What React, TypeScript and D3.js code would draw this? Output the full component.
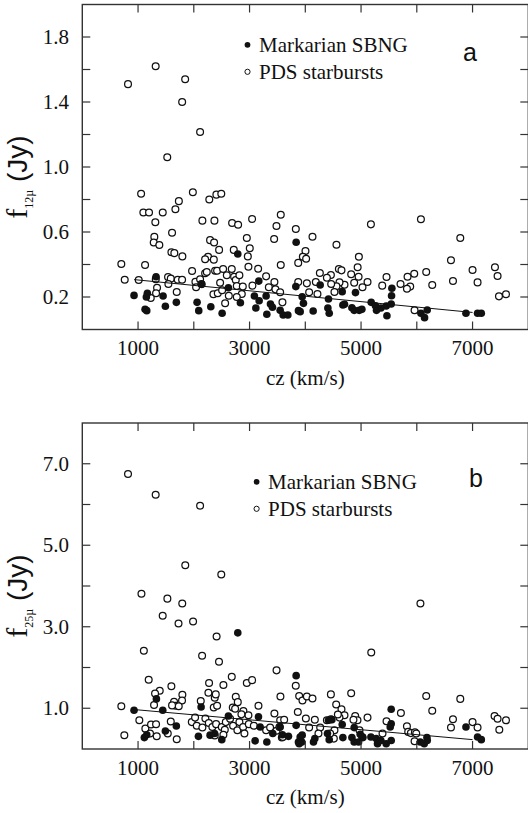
import * as d3 from "d3";

// cz (km/s) vs flux (Jy)
const mark12: [number, number][] = [
  [928, 0.21], [1167, 0.223], [1149, 0.2], [1449, 0.206], [1126, 0.124], [1156, 0.116],
  [1490, 0.143], [1687, 0.167], [2059, 0.167], [2089, 0.116], [2305, 0.14], [2508, 0.1],
  [2836, 0.165], [2143, 0.278], [2621, 0.257], [3166, 0.298], [3087, 0.206], [3172, 0.177],
  [3113, 0.132], [3310, 0.094], [3297, 0.206], [3375, 0.157], [3411, 0.137], [3549, 0.118],
  [3603, 0.089], [3687, 0.089], [3830, 0.264], [3877, 0.116], [2789, 0.465], [3836, 0.537],
  [1323, 0.325], [4267, 0.274], [3944, 0.202], [3967, 0.161], [3908, 0.11], [4141, 0.114],
  [4416, 0.188], [4405, 0.132], [4429, 0.1], [4662, 0.233], [4674, 0.151], [4703, 0.155],
  [4900, 0.227], [4836, 0.134], [4877, 0.118], [4967, 0.118], [5015, 0.124], [5182, 0.167],
  [5259, 0.146], [5277, 0.118], [5464, 0.085], [5356, 0.132], [5451, 0.145], [5541, 0.157],
  [5553, 0.254], [5547, 0.208], [6074, 0.1], [6187, 0.12], [6139, 0.073], [6882, 0.1],
  [7090, 0.1], [7157, 0.1],
];

const pds12: [number, number][] = [
  [820, 1.51], [1316, 1.62], [1845, 1.54], [1791, 1.4], [2113, 1.215], [1524, 1.06],
  [1055, 0.835], [1983, 0.845], [2278, 0.8], [2405, 0.83], [2493, 0.835], [1732, 0.79],
  [1670, 0.74], [1095, 0.72], [1197, 0.72], [1443, 0.72], [1310, 0.66], [2154, 0.67],
  [2370, 0.67], [2687, 0.655], [2795, 0.645], [3046, 0.68], [1610, 0.595], [1292, 0.57],
  [1281, 0.535], [1382, 0.52], [2292, 0.55], [2364, 0.535], [2454, 0.49], [1598, 0.475],
  [1651, 0.47], [1795, 0.45], [2951, 0.563], [3004, 0.5], [2969, 0.45], [2717, 0.49],
  [3441, 0.557], [3483, 0.637], [3560, 0.706], [3830, 0.618], [3560, 0.397], [3873, 0.41],
  [700, 0.403], [1126, 0.397], [761, 0.306], [1012, 0.305], [1318, 0.31], [1538, 0.323],
  [1587, 0.313], [1712, 0.306], [1790, 0.306], [1544, 0.28], [1341, 0.257], [1323, 0.223],
  [1228, 0.194], [1694, 0.231], [1969, 0.36], [2029, 0.294], [2041, 0.26], [2113, 0.309],
  [2137, 0.28], [2203, 0.346], [2233, 0.354], [2256, 0.448], [2203, 0.432], [2359, 0.43],
  [2382, 0.362], [2418, 0.362], [2526, 0.372], [2681, 0.372], [2592, 0.334], [2472, 0.288],
  [2723, 0.325], [2753, 0.305], [2818, 0.334], [2771, 0.268], [2879, 0.264], [2861, 0.218],
  [2352, 0.217], [2430, 0.223], [2508, 0.241], [2628, 0.208], [2562, 0.161], [2771, 0.2],
  [2980, 0.386], [3154, 0.374], [3052, 0.27], [3297, 0.327], [3446, 0.292], [3346, 0.26],
  [3464, 0.247], [3549, 0.229], [3590, 0.167], [3873, 0.292], [4129, 0.571], [5177, 0.647],
  [6074, 0.678], [6780, 0.563], [4559, 0.522], [4003, 0.483], [3956, 0.448], [4015, 0.436],
  [4961, 0.448], [6613, 0.426], [7402, 0.383], [7000, 0.366], [7449, 0.329], [7090, 0.29],
  [6649, 0.298], [6169, 0.354], [6277, 0.274], [5954, 0.343], [5834, 0.325], [5882, 0.264],
  [5823, 0.251], [5708, 0.28], [5457, 0.323], [5380, 0.27], [5116, 0.292], [4939, 0.383],
  [4956, 0.325], [4823, 0.34], [4877, 0.288], [5026, 0.26], [4602, 0.372], [4649, 0.364],
  [4703, 0.276], [4613, 0.29], [4559, 0.266], [4523, 0.231], [4459, 0.335], [4387, 0.319],
  [4464, 0.28], [4261, 0.348], [4189, 0.292], [4069, 0.229], [4218, 0.218], [4028, 0.284],
  [7474, 0.204], [7600, 0.217], [5960, 0.118],
];

const mark25: [number, number][] = [
  [2789, 2.85], [3836, 1.8], [928, 0.95], [1443, 0.95], [1113, 0.28], [1156, 0.35],
  [1490, 0.44], [1687, 0.565], [2083, 0.31], [2292, 0.34], [2373, 0.38], [2502, 0.23],
  [2621, 0.81], [2131, 1.03], [1329, 1.23], [3100, 0.2], [3160, 0.79], [3310, 0.17],
  [3190, 0.54], [3549, 0.54], [3590, 0.35], [3698, 0.31], [3417, 0.38], [3836, 0.58],
  [3877, 0.17], [3908, 0.295], [3937, 0.17], [3890, 0.13], [3944, 0.34], [4147, 0.17],
  [4171, 0.255], [4416, 0.705], [4477, 0.72], [4398, 0.38], [4429, 0.23], [4662, 0.6],
  [4674, 0.28], [4877, 0.525], [4836, 0.28], [4877, 0.17], [4956, 0.17], [5033, 0.28],
  [4985, 0.36], [5177, 0.295], [5272, 0.255], [5295, 0.13], [5356, 0.21], [5451, 0.13],
  [5541, 0.21], [5541, 0.975], [5541, 0.62], [5523, 0.54], [6062, 0.17], [6133, 0.13],
  [6187, 0.21], [6182, 0.28], [6882, 0.54], [7090, 0.295], [7157, 0.23],
];

const pds25: [number, number][] = [
  [820, 6.75], [1316, 6.24], [2113, 5.97], [1847, 4.51], [2493, 4.28], [1061, 3.81],
  [1526, 3.69], [1793, 3.57], [6065, 3.57], [1442, 3.27], [1726, 3.08], [1987, 3.13],
  [2409, 2.76], [1104, 2.41], [2149, 2.29], [2452, 2.14], [5183, 2.37], [3484, 1.93],
  [3829, 1.55], [1191, 1.7], [1598, 1.54], [1389, 1.43], [1305, 1.36], [1795, 1.33],
  [1789, 1.19], [1287, 1.08], [1646, 1.16], [1676, 1.06], [1730, 1.05], [1610, 1.07],
  [700, 1.05], [1023, 0.705], [1131, 0.5], [1233, 0.6], [1323, 0.607], [1335, 0.312],
  [1215, 0.378], [754, 0.337], [1533, 0.378], [1587, 0.673], [1694, 0.238], [2274, 1.62],
  [2531, 1.57], [2681, 1.77], [2951, 1.62], [3046, 1.69], [2262, 1.38], [2376, 1.26],
  [2394, 1.34], [2125, 1.18], [2358, 1.02], [2418, 1.06], [2753, 1.28], [2789, 1.15],
  [2699, 1.02], [2741, 0.99], [3554, 1.29], [3160, 1.06], [2890, 0.93], [2980, 0.83],
  [2854, 0.85], [3446, 0.87], [3549, 0.705], [3866, 0.91], [1964, 0.66], [2023, 0.77],
  [2053, 0.57], [2154, 0.53], [2208, 0.75], [2269, 0.64], [2333, 0.54], [2400, 0.61],
  [2502, 0.54], [2556, 0.47], [2574, 0.66], [2651, 0.74], [2705, 0.57], [2782, 0.46],
  [2818, 0.66], [2885, 0.54], [2908, 0.38], [2987, 0.61], [3077, 0.57], [3297, 0.46],
  [3369, 0.53], [3483, 0.45], [3579, 0.28], [3536, 0.54], [2376, 0.33], [2531, 0.35],
  [4459, 1.34], [4823, 1.37], [6169, 1.3], [6780, 1.23], [3890, 1.3], [3949, 1.19],
  [4028, 1.29], [4129, 1.24], [4010, 0.75], [4069, 0.53], [4171, 0.72], [4267, 0.53],
  [4387, 0.705], [4459, 0.73], [4554, 1.09], [4649, 0.975], [4703, 0.83], [4613, 0.77],
  [4584, 0.845], [4523, 0.46], [4512, 0.255], [4895, 0.81], [4936, 0.705], [4864, 0.72],
  [4972, 0.46], [5021, 0.295], [5116, 0.77], [5385, 0.38], [5457, 0.68], [5715, 0.885],
  [5823, 0.56], [5846, 0.42], [5894, 0.39], [5966, 0.41], [5990, 0.38], [5960, 0.19],
  [6277, 0.94], [6613, 0.53], [6649, 0.73], [7000, 0.66], [7090, 0.53], [7395, 0.81],
  [7449, 0.74], [7600, 0.705], [7480, 0.47], [4236, 0.38], [4446, 0.38], [3621, 0.72],
  [3597, 0.295],
];

// straight-line fits drawn in each panel
const fit12: [number, number][] = [[930, 0.307], [7000, 0.105]];
const fit25: [number, number][] = [[916, 0.97], [7000, 0.23]];

const xTicks = [1000, 2000, 3000, 4000, 5000, 6000, 7000];
const xLabels = [1000, 3000, 5000, 7000];
const yTicks12 = [0.2, 0.4, 0.6, 0.8, 1.0, 1.2, 1.4, 1.6, 1.8];
const yLabels12 = [0.2, 0.6, 1.0, 1.4, 1.8];
const yTicks25 = [1, 2, 3, 4, 5, 6, 7];
const yLabels25 = [1, 3, 5, 7];

const legendNames = ["Markarian SBNG", "PDS starbursts"];

const SERIF = "Liberation Serif, Times New Roman, DejaVu Serif, serif";
const SANS = "Liberation Sans, Arial, sans-serif";
const INK = "#111";

type PanelProps = {
  top: number;
  bottom: number;
  yMax: number;
  yTicks: number[];
  yLabels: number[];
  mark: [number, number][];
  pds: [number, number][];
  fit: [number, number][];
  sub: string;
  letter: string;
  letterPos: [number, number];
  legendPos: [number, number];
};

const Panel = ({ top, bottom, yMax, yTicks, yLabels, mark, pds, fit, sub, letter, letterPos, legendPos }: PanelProps) => {
  const x = d3.scaleLinear().domain([0, 8000]).range([82.3, 528.3]);
  const y = d3.scaleLinear().domain([0, yMax]).range([bottom, top]);
  const line = d3.line<[number, number]>().x((d) => x(d[0])).y((d) => y(d[1]));
  const [x0, x1] = x.range();
  const tk = 8;
  const [lx, ly] = legendPos;
  const serif = { fontFamily: SERIF };
  const sans = { fontFamily: SANS };

  return (
    <g>
      {pds.map((d, i) => (
        <circle key={"p" + i} cx={x(d[0])} cy={y(d[1])} r={3.4} fill="white" stroke={INK} strokeWidth={1.25} />
      ))}
      {mark.map((d, i) => (
        <circle key={"m" + i} cx={x(d[0])} cy={y(d[1])} r={3.8} fill={INK} />
      ))}
      <path d={line(fit) ?? ""} fill="none" stroke={INK} strokeWidth={1} />

      <rect x={x0} y={top} width={x1 - x0} height={bottom - top} fill="none" stroke="#333" strokeWidth={1.4} />
      {xTicks.map((t) => (
        <g key={"xt" + t} stroke="#333" strokeWidth={1.2}>
          <line x1={x(t)} x2={x(t)} y1={bottom} y2={bottom - tk} />
          <line x1={x(t)} x2={x(t)} y1={top} y2={top + tk} />
        </g>
      ))}
      {yTicks.map((t) => (
        <g key={"yt" + t} stroke="#333" strokeWidth={1.2}>
          <line x1={x0} x2={x0 + tk} y1={y(t)} y2={y(t)} />
          <line x1={x1} x2={x1 - tk} y1={y(t)} y2={y(t)} />
        </g>
      ))}
      {xLabels.map((t) => (
        <text key={"xl" + t} x={x(t)} y={bottom + 25.5} textAnchor="middle" style={serif} fontSize={21} fill={INK}>
          {t}
        </text>
      ))}
      {yLabels.map((t) => (
        <text key={"yl" + t} x={69} y={y(t)} dy="0.34em" textAnchor="end" style={serif} fontSize={21} fill={INK}>
          {d3.format(".1f")(t)}
        </text>
      ))}
      <text x={(x0 + x1) / 2} y={bottom + 55} textAnchor="middle" style={serif} fontSize={21} fill={INK}>
        cz (km/s)
      </text>
      <text transform={`translate(27,${(top + bottom) / 2 + 10}) rotate(-90)`} textAnchor="middle" fill={INK}>
        <tspan style={serif} fontSize={30}>f</tspan>
        <tspan style={serif} fontSize={12} dy={6}>{sub}</tspan>
        <tspan style={sans} fontSize={28} dy={-6}>{" (Jy)"}</tspan>
      </text>

      <circle cx={lx} cy={ly} r={2.9} fill={INK} />
      <circle cx={lx} cy={ly + 27} r={2.6} fill="white" stroke={INK} strokeWidth={1} />
      <text x={lx + 11.5} y={ly + 7} style={serif} fontSize={21} fill={INK}>{legendNames[0]}</text>
      <text x={lx + 11.5} y={ly + 34} style={serif} fontSize={21} fill={INK}>{legendNames[1]}</text>

      <text x={letterPos[0]} y={letterPos[1]} textAnchor="middle" style={sans} fontSize={25} fill={INK}>
        {letter}
      </text>
    </g>
  );
};

export default function App() {
  return (
    <svg width={528} height={813} style={{ position: "absolute", left: 0, top: 0, background: "white" }}>
      <rect width={528} height={813} fill="white" />
      <Panel
        top={4.5}
        bottom={329.5}
        yMax={2.0}
        yTicks={yTicks12}
        yLabels={yLabels12}
        mark={mark12}
        pds={pds12}
        fit={fit12}
        sub="12µ"
        letter="a"
        letterPos={[470, 61]}
        legendPos={[247.5, 44.8]}
      />
      <Panel
        top={423}
        bottom={749}
        yMax={8}
        yTicks={yTicks25}
        yLabels={yLabels25}
        mark={mark25}
        pds={pds25}
        fit={fit25}
        sub="25µ"
        letter="b"
        letterPos={[476, 487]}
        legendPos={[256.6, 481.8]}
      />
    </svg>
  );
}
